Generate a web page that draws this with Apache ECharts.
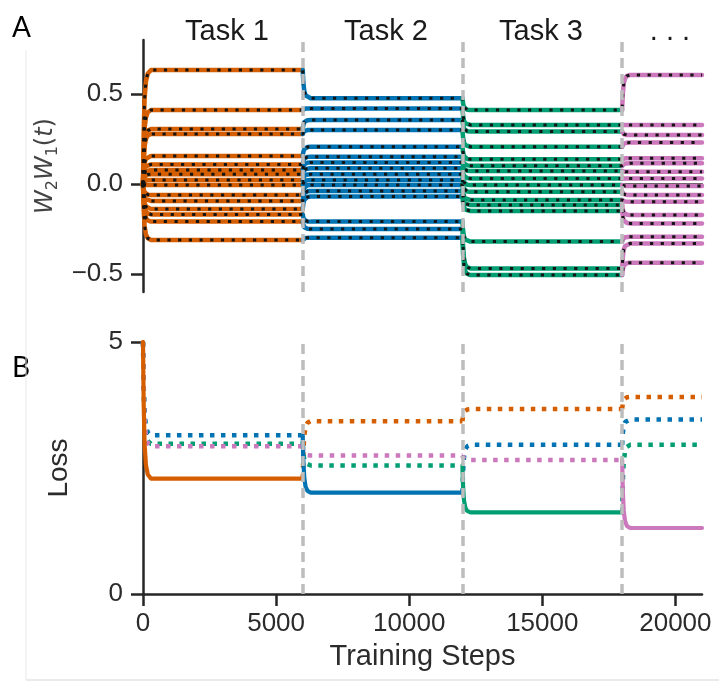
<!DOCTYPE html>
<html><head><meta charset="utf-8">
<script src="https://cdn.jsdelivr.net/npm/echarts@6/dist/echarts.min.js"></script>
<style>html,body{margin:0;padding:0;background:#fff}#c{width:719px;height:684px}</style>
</head><body><div id="c"></div><script>
// ---------- data ----------
const taskStarts = [0, 6000, 12000, 18000];
const xEnd = 21000;
const taskColors = ['#d55e00', '#0173b2', '#029e73', '#cc78bc'];
const taskLabels = ['Task 1', 'Task 2', 'Task 3', '. . .'];
const xTicks = [0, 5000, 10000, 15000, 20000];
const wTicks = [-0.5, 0, 0.5];
const lossTicks = [0, 5];

// W2W1(t) plateau value of each trajectory during each task (ranked)
const wInit = 0;
const wTask1 = [0.633, 0.411, 0.306, 0.278, 0.156, 0.109, 0.078, 0.054, 0.022, -0.006, -0.061, -0.094, -0.139, -0.169, -0.209, -0.311];
const wTask2 = [0.476, 0.420, 0.356, 0.300, 0.207, 0.152, 0.120, 0.087, 0.054, 0.022, -0.006, -0.039, -0.070, -0.209, -0.250, -0.298];
const wTask3 = [0.411, 0.328, 0.291, 0.207, 0.137, 0.102, 0.072, 0.031, -0.006, -0.043, -0.089, -0.117, -0.150, -0.320, -0.469, -0.506];
const wTask4 = [0.606, 0.328, 0.272, 0.230, 0.143, 0.115, 0.068, 0.031, -0.011, -0.061, -0.098, -0.172, -0.219, -0.293, -0.330, -0.437];

// loss of each task (colour) at the plateau of each training phase
const lossInit = 5;
const lossTask1 = [2.29, 3.43, 3.67, 3.91];
const lossTask2 = [3.15, 2.01, 2.96, 3.46];
const lossTask3 = [2.98, 2.55, 1.62, 2.96];
const lossTask4 = [2.93, 2.75, 2.66, 1.31];

// shape of a switch: steps after switch, share of change done
const shapeSteps = [0, 25, 60, 110, 180, 300];
const shapeFrac = [0, 0.45, 0.75, 0.9, 0.97, 1];

// ---------- build ----------
const FONT = '"Liberation Sans", Arial, sans-serif';
const TXT = '#2b2b2b';
const AX = '#262626';
const bounds = taskStarts.concat([xEnd]);
const wTasks = [wTask1, wTask2, wTask3, wTask4];
const lossTasks = [lossTask1, lossTask2, lossTask3, lossTask4];

function segment(k, from, to) {
  const t0 = bounds[k], t1 = bounds[k + 1];
  const pts = shapeSteps.map((s, i) => [t0 + s, from + shapeFrac[i] * (to - from)]);
  pts.push([t1, to]);
  return pts;
}

const series = [];
const blackSeries = [];
for (let j = 0; j < wTask1.length; j++) {
  let prev = wInit;
  const full = [];
  for (let k = 0; k < 4; k++) {
    const seg = segment(k, prev, wTasks[k][j]);
    series.push({
      type: 'line', xAxisIndex: 0, yAxisIndex: 0, data: seg, symbol: 'none', silent: true, z: 2,
      lineStyle: { color: taskColors[k], width: 4.5, cap: 'round', join: 'round' }
    });
    full.push(...(k === 0 ? seg : seg.slice(1)));
    prev = wTasks[k][j];
  }
  blackSeries.push({
    type: 'line', xAxisIndex: 0, yAxisIndex: 0, data: full, symbol: 'none', silent: true, z: 3,
    lineStyle: { color: '#141414', width: 3, type: [3.2, 7.5], cap: 'butt' }
  });
}
series.push(...blackSeries);

// loss curves
for (let c = 0; c < 4; c++) {
  let prev = lossInit;
  for (let k = 0; k < 4; k++) {
    const val = lossTasks[c][k];
    const own = (k === c);
    series.push({
      type: 'line', xAxisIndex: 1, yAxisIndex: 1, data: segment(k, prev, val), symbol: 'none', silent: true,
      z: own ? 3 : 2,
      lineStyle: own ? { color: taskColors[c], width: 4.2, cap: 'round' }
                     : { color: taskColors[c], width: 4.5, type: [4.5, 6.5], cap: 'butt' }
    });
    prev = val;
  }
}

// task boundaries
const vlines = taskStarts.slice(1).map(t => ({ xAxis: t }));
[0, 1].forEach(g => series.push({
  type: 'line', xAxisIndex: g, yAxisIndex: g, data: [], silent: true, z: 1,
  markLine: { symbol: 'none', silent: true, label: { show: false }, animation: false,
    emphasis: { disabled: true },
    lineStyle: { color: '#bdbdbd', width: 3.5, type: [10, 6] }, data: vlines }
}));

const minusFmt = v => (v < 0 ? '\u2212' : '') + Math.abs(v).toFixed(1);

const option = {
  animation: false,
  backgroundColor: '#fff',
  grid: [
    { left: 143, right: 17, top: 40, height: 252 },
    { left: 143, right: 17, top: 342, height: 252 }
  ],
  xAxis: [
    { type: 'value', gridIndex: 0, min: 0, max: xEnd,
      axisLine: { show: true, lineStyle: { color: AX, width: 2.5 } },
      axisTick: { show: false }, axisLabel: { show: false }, splitLine: { show: false } },
    { type: 'value', gridIndex: 1, min: 0, max: xEnd,
      axisLine: { show: true, lineStyle: { color: AX, width: 2.5 } },
      axisTick: { show: true, length: 12, lineStyle: { color: AX, width: 2.5 }, customValues: xTicks },
      axisLabel: { color: TXT, fontSize: 26, fontFamily: FONT, margin: 17, customValues: xTicks, formatter: v => String(v) },
      splitLine: { show: false },
      name: 'Training Steps', nameLocation: 'middle', nameGap: 48,
      nameTextStyle: { color: TXT, fontSize: 29, fontFamily: FONT } }
  ],
  yAxis: [
    { type: 'value', gridIndex: 0, min: -0.6, max: 0.8,
      axisLine: { show: true, lineStyle: { color: AX, width: 2.5 } },
      axisTick: { show: true, length: 12, lineStyle: { color: AX, width: 2.5 }, customValues: wTicks },
      axisLabel: { color: TXT, fontSize: 26, fontFamily: FONT, margin: 20, customValues: wTicks, formatter: minusFmt },
      splitLine: { show: false },
      name: '{w|W}{s|2}{w|W}{s|1}{p|(}{w|t}{p|)}', nameLocation: 'middle', nameRotate: 90, nameGap: 78,
      nameTextStyle: { color: TXT, fontFamily: 'DejaVu Sans', fontSize: 24,
        rich: {
          w: { fontStyle: 'italic', fontSize: 24, fontFamily: 'DejaVu Sans', color: '#444', lineHeight: 30, verticalAlign: 'middle' },
          s: { fontSize: 16, fontFamily: 'DejaVu Sans', color: '#444', lineHeight: 14, verticalAlign: 'bottom' },
          p: { fontSize: 24, fontFamily: 'DejaVu Sans', color: '#444', lineHeight: 30, verticalAlign: 'middle' }
        } } },
    { type: 'value', gridIndex: 1, min: 0, max: 5,
      axisLine: { show: true, lineStyle: { color: AX, width: 2.5 } },
      axisTick: { show: true, length: 12, lineStyle: { color: AX, width: 2.5 }, customValues: lossTicks },
      axisLabel: { color: TXT, fontSize: 26, fontFamily: FONT, margin: 20, customValues: lossTicks },
      splitLine: { show: false },
      name: 'Loss', nameLocation: 'middle', nameRotate: 90, nameGap: 70,
      nameTextStyle: { color: TXT, fontSize: 28, fontFamily: FONT } }
  ],
  graphic: [
    { type: 'text', left: 12, top: 14, style: { text: 'A', fontSize: 28, fontFamily: 'Lato, "Open Sans", sans-serif', fill: '#000' } },
    { type: 'text', left: 12, top: 354, style: { text: 'B', fontSize: 28, fontFamily: 'Lato, "Open Sans", sans-serif', fill: '#000' } },
    { type: 'line', shape: { x1: 26, y1: 50, x2: 26, y2: 680 }, style: { stroke: '#e8e8e8', lineWidth: 1 }, silent: true },
    { type: 'line', shape: { x1: 26, y1: 680, x2: 719, y2: 680 }, style: { stroke: '#e3e3e3', lineWidth: 1.5 }, silent: true }
  ].concat(taskLabels.map((t, i) => ({
    type: 'text', x: [227, 386, 541, 670][i], y: 32,
    style: { text: t, fontSize: 29, fontFamily: FONT, fill: '#1a1a1a', align: 'center', verticalAlign: 'middle' }
  }))),
  series: series
};
const chart = echarts.init(document.getElementById('c'));
chart.setOption(option);
</script></body></html>
